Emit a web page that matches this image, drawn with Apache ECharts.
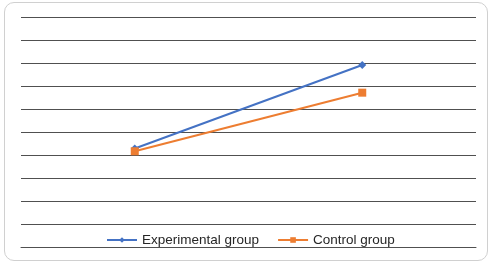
<!DOCTYPE html>
<html>
<head>
<meta charset="utf-8">
<script src="https://cdn.jsdelivr.net/npm/echarts@6/dist/echarts.min.js"></script>
<style>
html,body{margin:0;padding:0;background:#fff;}
#wrap{position:absolute;left:4px;top:2px;width:484px;height:259px;border:1px solid #d0d0d0;border-radius:10px;box-sizing:border-box;background:#fff;}
#chart{position:absolute;left:0;top:0;width:494px;height:267px;}
</style>
</head>
<body>
<div id="wrap"></div>
<div id="chart"></div>
<script>
var categories = ['Pre-test', 'Post-test'];
var experimentalGroup = [4.3, 7.92];
var controlGroup = [4.18, 6.72];
var seriesNames = ['Experimental group', 'Control group'];

var chart = echarts.init(document.getElementById('chart'), null, {renderer: 'canvas'});
chart.setOption({
  animation: false,
  backgroundColor: 'transparent',
  grid: {left: 21, right: 18, top: 17, bottom: 19.3, containLabel: false},
  xAxis: {
    type: 'category',
    data: categories,
    boundaryGap: true,
    axisLine: {show: true, lineStyle: {color: '#505050', width: 1}},
    axisTick: {show: false},
    axisLabel: {show: false}
  },
  yAxis: {
    type: 'value',
    min: 0,
    max: 10,
    interval: 1,
    axisLine: {show: false},
    axisTick: {show: false},
    axisLabel: {show: false},
    splitLine: {show: true, lineStyle: {color: '#505050', width: 1}}
  },
  legend: {
    bottom: 15,
    left: 101,
    itemWidth: 30,
    itemHeight: 7,
    itemGap: 18,
    textStyle: {fontFamily: 'Liberation Sans', fontSize: 13.5, color: '#262626'},
    data: seriesNames
  },
  series: [
    {
      name: seriesNames[0],
      type: 'line',
      data: experimentalGroup,
      symbol: 'diamond',
      symbolSize: 8,
      lineStyle: {color: '#4472C4', width: 2},
      itemStyle: {color: '#4472C4'}
    },
    {
      name: seriesNames[1],
      type: 'line',
      data: controlGroup,
      symbol: 'rect',
      symbolSize: 8,
      lineStyle: {color: '#ED7D31', width: 2},
      itemStyle: {color: '#ED7D31'}
    }
  ]
});
</script>
</body>
</html>
